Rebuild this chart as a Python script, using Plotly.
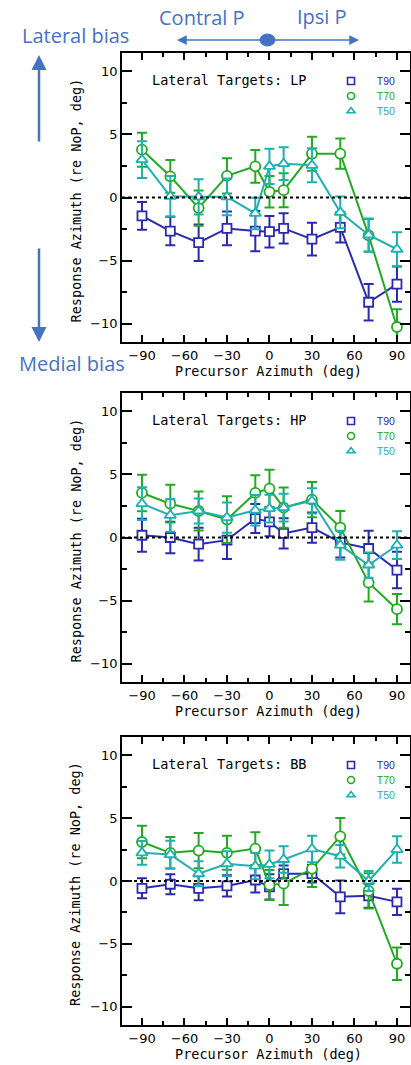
import plotly.graph_objects as go

W, H = 411, 1065

precursor_az = [-90, -70, -50, -30, -10, 0, 10, 30, 50, 70, 90]

# LP
lp_t90 = [-1.45, -2.66, -3.58, -2.45, -2.66, -2.71, -2.45, -3.3, -2.37, -8.3, -6.87]
lp_t90_err = [1.1, 1.13, 1.45, 1.34, 1.6, 1.25, 1.2, 1.3, 1.2, 1.45, 1.4]
lp_t70 = [3.79, 1.68, -0.84, 1.71, 2.47, 0.45, 0.58, 3.47, 3.47, -3.0, -10.26]
lp_t70_err = [1.35, 1.3, 1.4, 1.4, 1.3, 1.25, 1.35, 1.35, 1.2, 1.3, 1.4]
lp_t50 = [3.0, 0.1, 0.05, 0.05, -1.26, 2.47, 2.68, 2.55, -1.18, -2.97, -4.1]
lp_t50_err = [1.45, 1.6, 1.4, 1.45, 1.25, 1.4, 1.3, 1.35, 1.25, 1.3, 1.35]

# HP
hp_t90 = [0.18, 0.0, -0.53, -0.21, 1.5, 1.24, 0.32, 0.79, -0.39, -0.87, -2.58]
hp_t90_err = [1.3, 1.25, 1.3, 1.5, 1.15, 1.15, 1.2, 1.2, 1.2, 1.4, 1.45]
hp_t70 = [3.53, 2.68, 2.1, 1.42, 3.53, 3.87, 2.37, 3.0, 0.79, -3.58, -5.68]
hp_t70_err = [1.45, 1.5, 1.55, 1.85, 1.4, 1.5, 1.6, 1.4, 1.3, 1.5, 1.2]
hp_t50 = [2.68, 1.76, 2.1, 1.58, 2.16, 2.29, 2.37, 2.9, -0.61, -2.18, -0.61]
hp_t50_err = [1.3, 1.3, 1.0, 1.2, 1.2, 1.1, 1.1, 1.0, 1.15, 1.0, 1.1]

# BB
bb_t90 = [-0.58, -0.26, -0.58, -0.39, 0.08, -0.47, 0.58, 0.58, -1.26, -1.18, -1.66]
bb_t90_err = [0.8, 0.8, 0.95, 0.85, 1.0, 1.0, 0.65, 0.7, 1.3, 0.95, 1.05]
bb_t70 = [3.1, 2.24, 2.42, 2.24, 2.58, -0.32, -0.21, 0.97, 3.55, -0.79, -6.58]
bb_t70_err = [1.3, 1.25, 1.4, 1.35, 1.3, 1.2, 1.7, 1.45, 1.45, 1.4, 1.3]
bb_t50 = [2.24, 2.1, 0.58, 1.37, 1.18, 1.32, 1.71, 2.55, 1.97, 0.0, 2.5]
bb_t50_err = [0.95, 1.1, 1.0, 1.0, 1.05, 1.1, 1.05, 1.05, 0.9, 0.8, 1.05]

panel_names = ["LP", "HP", "BB"]
series_names = ["T90", "T70", "T50"]
x_tick_vals = [-90, -60, -30, 0, 30, 60, 90]
y_tick_vals = [-10, -5, 0, 5, 10]

panels = [
    [(lp_t90, lp_t90_err), (lp_t70, lp_t70_err), (lp_t50, lp_t50_err)],
    [(hp_t90, hp_t90_err), (hp_t70, hp_t70_err), (hp_t50, hp_t50_err)],
    [(bb_t90, bb_t90_err), (bb_t70, bb_t70_err), (bb_t50, bb_t50_err)],
]

colors = ["#2a2ab0", "#22aa22", "#1fb0b0"]
symbols = ["square", "circle", "triangle-up"]
msizes = [9, 10, 10]

left_px, right_px = 122, 410
boxes = [(53, 342), (393, 682), (737, 1025)]
legend_offsets = [28, 43, 58]


def px_x(p):
    return p / W


def px_y(p):
    return 1 - p / H


fig = go.Figure()
tick_font = "DejaVu Sans"
label_font = "DejaVu Sans Mono"
ann_blue = "#4472c4"

annotations = []
shapes = []
layout_upd = {}

for i, (pname, series) in enumerate(zip(panel_names, panels)):
    k = i + 1
    xa = "x" if k == 1 else f"x{k}"
    ya = "y" if k == 1 else f"y{k}"
    for j, ((vals, errs), sname) in enumerate(zip(series, series_names)):
        fig.add_trace(go.Scatter(
            x=precursor_az, y=vals,
            mode="lines+markers",
            line=dict(color=colors[j], width=2),
            marker=dict(symbol=symbols[j], size=msizes[j], color="white",
                        line=dict(color=colors[j], width=1.8)),
            error_y=dict(type="data", array=errs, visible=True,
                         color=colors[j], thickness=2, width=5),
            xaxis=xa, yaxis=ya, showlegend=False, name=sname,
        ))
    top, bot = boxes[i]
    for j, sname in enumerate(series_names):
        n = 3 * i + j + 1
        leg = "legend" if n == 1 else f"legend{n}"
        fig.add_trace(go.Scatter(
            x=[None], y=[None], mode="markers",
            marker=dict(symbol=symbols[j], size=7, color="white",
                        line=dict(color=colors[j], width=1.6)),
            name=f"&nbsp;&nbsp;<span style='color:{colors[j]}'>{sname}</span>",
            xaxis=xa, yaxis=ya, legend=leg, showlegend=True,
        ))
        layout_upd[leg] = dict(x=px_x(401), y=px_y(top + legend_offsets[j]),
                               xanchor="right", yanchor="middle",
                               bgcolor="rgba(0,0,0,0)", borderwidth=0,
                               font=dict(family="Liberation Sans", size=10.5),
                               itemwidth=30)
    axis_common = dict(showline=True, linecolor="black", linewidth=1.8,
                       mirror="allticks", showgrid=False, zeroline=False,
                       ticks="inside", tickcolor="black", tickwidth=1.5,
                       tickfont=dict(family=tick_font, size=13, color="black"))
    layout_upd["xaxis" if k == 1 else f"xaxis{k}"] = dict(
        domain=[px_x(left_px), px_x(right_px)],
        range=[-104.1, 99.2], anchor=ya,
        tickvals=x_tick_vals, ticklen=7,
        minor=dict(dtick=15, tick0=-90, ticklen=4, ticks="inside",
                   tickcolor="black", tickwidth=1.5, showgrid=False),
        **axis_common)
    layout_upd["yaxis" if k == 1 else f"yaxis{k}"] = dict(
        domain=[px_y(bot), px_y(top)],
        range=[-11.45, 11.45], anchor=xa,
        tickvals=y_tick_vals, ticklen=10,
        minor=dict(dtick=2.5, tick0=0, ticklen=5, ticks="inside",
                   tickcolor="black", tickwidth=1.5, showgrid=False),
        **axis_common)
    shapes.append(dict(type="line", xref=f"{xa} domain", yref=ya,
                       x0=0, x1=1, y0=0, y1=0,
                       line=dict(color="black", width=1.8, dash="dot")))
    annotations.append(dict(text=f"Lateral Targets: {pname}", xref="paper", yref="paper",
                            x=px_x(150), y=px_y(top + 27), xanchor="left", yanchor="middle",
                            showarrow=False, font=dict(family=label_font, size=13.5, color="black")))
    annotations.append(dict(text="Precursor Azimuth (deg)", xref="paper", yref="paper",
                            x=px_x(268), y=px_y(bot + 29), xanchor="center", yanchor="middle",
                            showarrow=False, font=dict(family=label_font, size=13.5, color="black")))
    annotations.append(dict(text="Response Azimuth (re NoP, deg)", xref="paper", yref="paper",
                            x=px_x(75), y=px_y((top + bot) / 2 + 3), xanchor="center", yanchor="middle",
                            textangle=-90, showarrow=False,
                            font=dict(family=label_font, size=13.5, color="black")))

annotations += [
    dict(text="Lateral bias", xref="paper", yref="paper", x=px_x(75), y=px_y(35),
         xanchor="center", yanchor="middle", showarrow=False,
         font=dict(family="Open Sans", size=20, color=ann_blue)),
    dict(text="Medial bias", xref="paper", yref="paper", x=px_x(72), y=px_y(363),
         xanchor="center", yanchor="middle", showarrow=False,
         font=dict(family="Open Sans", size=20, color=ann_blue)),
    dict(text="Contral P", xref="paper", yref="paper", x=px_x(202), y=px_y(17),
         xanchor="center", yanchor="middle", showarrow=False,
         font=dict(family="Open Sans", size=20, color=ann_blue)),
    dict(text="Ipsi P", xref="paper", yref="paper", x=px_x(322), y=px_y(16),
         xanchor="center", yanchor="middle", showarrow=False,
         font=dict(family="Open Sans", size=20, color=ann_blue)),
    dict(text="", xref="paper", yref="paper", x=px_x(39), y=px_y(55),
         ax=0, ay=88, showarrow=True, arrowhead=2, arrowsize=1.2, arrowwidth=2.5,
         arrowcolor=ann_blue),
    dict(text="", xref="paper", yref="paper", x=px_x(39), y=px_y(342),
         ax=0, ay=-95, showarrow=True, arrowhead=2, arrowsize=1.2, arrowwidth=2.5,
         arrowcolor=ann_blue),
    dict(text="", xref="paper", yref="paper", x=px_x(177), y=px_y(40),
         ax=90, ay=0, showarrow=True, arrowhead=2, arrowsize=1.3, arrowwidth=1.5,
         arrowcolor=ann_blue),
    dict(text="", xref="paper", yref="paper", x=px_x(359), y=px_y(40),
         ax=-92, ay=0, showarrow=True, arrowhead=2, arrowsize=1.3, arrowwidth=1.5,
         arrowcolor=ann_blue),
]
shapes.append(dict(type="circle", xref="paper", yref="paper",
                   x0=px_x(260), x1=px_x(275), y0=px_y(46), y1=px_y(34),
                   fillcolor=ann_blue, line=dict(color=ann_blue, width=1)))

fig.update_layout(
    width=W, height=H, autosize=False,
    margin=dict(l=0, r=0, t=0, b=0),
    paper_bgcolor="white", plot_bgcolor="white",
    annotations=annotations, shapes=shapes,
    **layout_upd,
)

fig.write_html("out.html", include_plotlyjs=True, config={"displayModeBar": False},
               post_script="document.body.style.margin='0';document.body.style.overflow='hidden';")
